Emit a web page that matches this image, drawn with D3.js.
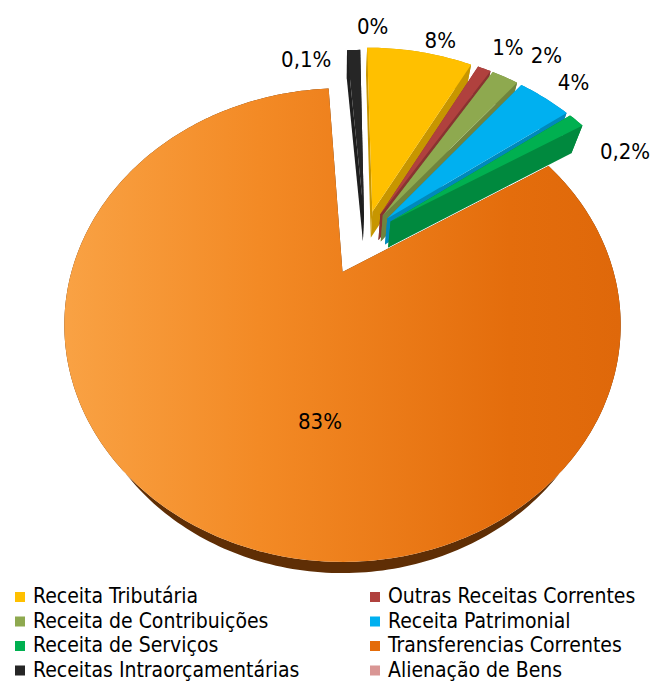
<!DOCTYPE html>
<html>
<head>
<meta charset="utf-8">
<script src="https://cdn.jsdelivr.net/npm/d3@7"></script>
<style>
  body { margin: 0; background: #fff; }
  svg text { font-family: "Liberation Sans Narrow", "DejaVu Sans Condensed", "Open Sans", sans-serif; fill: #000; }
</style>
</head>
<body>
<svg id="chart"></svg>
<script>
//Data
var categories = ["Receita Tributária", "Outras Receitas Correntes", "Receita de Contribuições", "Receita Patrimonial",
                  "Receita de Serviços", "Transferencias Correntes", "Receitas Intraorçamentárias", "Alienação de Bens"];
var values = [8, 1, 2, 4, 1.2, 83, 1, 0];
var labels = ["8%", "1%", "2%", "4%", "0,2%", "83%", "0,1%", "0%"];
var colors = ["#FFC000", "#B0413E", "#8EA94F", "#00B0F0", "#00B050", "#E46C0A", "#262626", "#D99694"];

//Setup dimensions
var dims = { width: 651, height: 683 };

//Camera for the tilted pie (world: x right, y up, z away from viewer)
var cam = { f: 675, dist: 2.49, tilt: Math.asin(0.8296), cx: 342.5, cy: 272 };
var thick = 0.17;
//explosion of each slice along its mid angle, the big slice is the reference one
var explode = [0.12, 0.12, 0.12, 0.12, 0.12, 0.19, 0.1, 0];
var bigIndex = 5;

var svg = d3.select("#chart")
    .attr("width", dims.width)
    .attr("height", dims.height);

function proj(x, y, z) {
    var s = Math.sin(cam.tilt), c = Math.cos(cam.tilt);
    var yc = y * c + z * s;
    var zc = cam.dist + z * c - y * s;
    return [cam.cx + cam.f * x / zc, cam.cy - cam.f * yc / zc];
}

var pie = d3.pie().sort(null).value(d => d)
    .startAngle(0).endAngle(2 * Math.PI);
var arcs = pie(values);

//offset of every slice relative to the big slice
var bigMid = (arcs[bigIndex].startAngle + arcs[bigIndex].endAngle) / 2;
var gx = -explode[bigIndex] * Math.sin(bigMid);
var gz = -explode[bigIndex] * Math.cos(bigMid);
arcs.forEach((a, i) => {
    a.index = i;
    a.mid = (a.startAngle + a.endAngle) / 2;
    if (i === bigIndex) {
        a.ox = 0; a.oz = 0;
    } else {
        a.ox = gx + explode[i] * Math.sin(a.mid);
        a.oz = gz + explode[i] * Math.cos(a.mid);
    }
});

function rimPoints(a, y, r) {
    var pts = [];
    var n = Math.max(2, Math.ceil((a.endAngle - a.startAngle) / (Math.PI / 180)));
    for (var k = 0; k <= n; k++) {
        var t = a.startAngle + (a.endAngle - a.startAngle) * k / n;
        pts.push(proj(a.ox + r * Math.sin(t), y, a.oz + r * Math.cos(t)));
    }
    return pts;
}

var line = d3.line().curve(d3.curveLinearClosed);

//gradient for the big slice
var defs = svg.append("defs");
var grad = defs.append("linearGradient").attr("id", "bigGrad")
    .attr("gradientUnits", "userSpaceOnUse")
    .attr("x1", 64).attr("x2", 621).attr("y1", 0).attr("y2", 0);
grad.append("stop").attr("offset", 0).attr("stop-color", "#F9A244");
grad.append("stop").attr("offset", 0.35).attr("stop-color", "#F38A25");
grad.append("stop").attr("offset", 0.8).attr("stop-color", "#E46D0C");
grad.append("stop").attr("offset", 1).attr("stop-color", "#DF680A");

//draw far slices first
var order = arcs.filter(a => a.value > 0)
    .sort((p, q) => (q.oz + 0.5 * Math.cos(q.mid)) - (p.oz + 0.5 * Math.cos(p.mid)));

var g = svg.append("g");
order.forEach(a => {
    var i = a.index;
    var side = i === bigIndex ? "#5F2E05" : d3.color(colors[i]).darker(0.7);
    var top = rimPoints(a, 0, 1);
    var bottom = rimPoints(a, -thick, 1);
    var sg = g.append("g");
    //outer side
    sg.append("path")
        .attr("d", line(top.concat(bottom.slice().reverse())))
        .attr("fill", side);
    //radial faces
    [a.startAngle, a.endAngle].forEach(t => {
        var p = [proj(a.ox, 0, a.oz),
                 proj(a.ox + Math.sin(t), 0, a.oz + Math.cos(t)),
                 proj(a.ox + Math.sin(t), -thick, a.oz + Math.cos(t)),
                 proj(a.ox, -thick, a.oz)];
        sg.append("path").attr("d", line(p)).attr("fill", side);
    });
    //top face
    sg.append("path")
        .attr("d", line([proj(a.ox, 0, a.oz)].concat(top)))
        .attr("fill", i === bigIndex ? "url(#bigGrad)" : colors[i]);
});

//data labels
var labelNudge = [[14, 12], [9, 1], [24, 0], [6, 4], [21, 48], [39, 52], [-46, 34], [12, -12]];
arcs.forEach((a, i) => {
    var r = i === bigIndex ? 0.45 : 1.17;
    var p = proj(a.ox + r * Math.sin(a.mid), 0, a.oz + r * Math.cos(a.mid));
    svg.append("text")
        .attr("x", p[0] + labelNudge[i][0])
        .attr("y", p[1] + labelNudge[i][1])
        .attr("text-anchor", "middle")
        .attr("dominant-baseline", "middle")
        .style("font-size", "22px")
        .text(labels[i]);
});

//legend
var legend = svg.append("g").attr("transform", "translate(15,597)");
var item = legend.selectAll("g")
    .data(categories)
    .enter()
    .append("g")
    .attr("transform", (d, i) => `translate(${(i % 2) * 355},${Math.floor(i / 2) * 24.5})`);
item.append("rect")
    .attr("x", 0).attr("y", -5)
    .attr("width", 10).attr("height", 10)
    .attr("fill", (d, i) => colors[i]);
item.append("text")
    .attr("x", 18).attr("y", 0)
    .attr("dominant-baseline", "middle")
    .style("font-size", "21px")
    .text(d => d);
</script>
</body>
</html>
